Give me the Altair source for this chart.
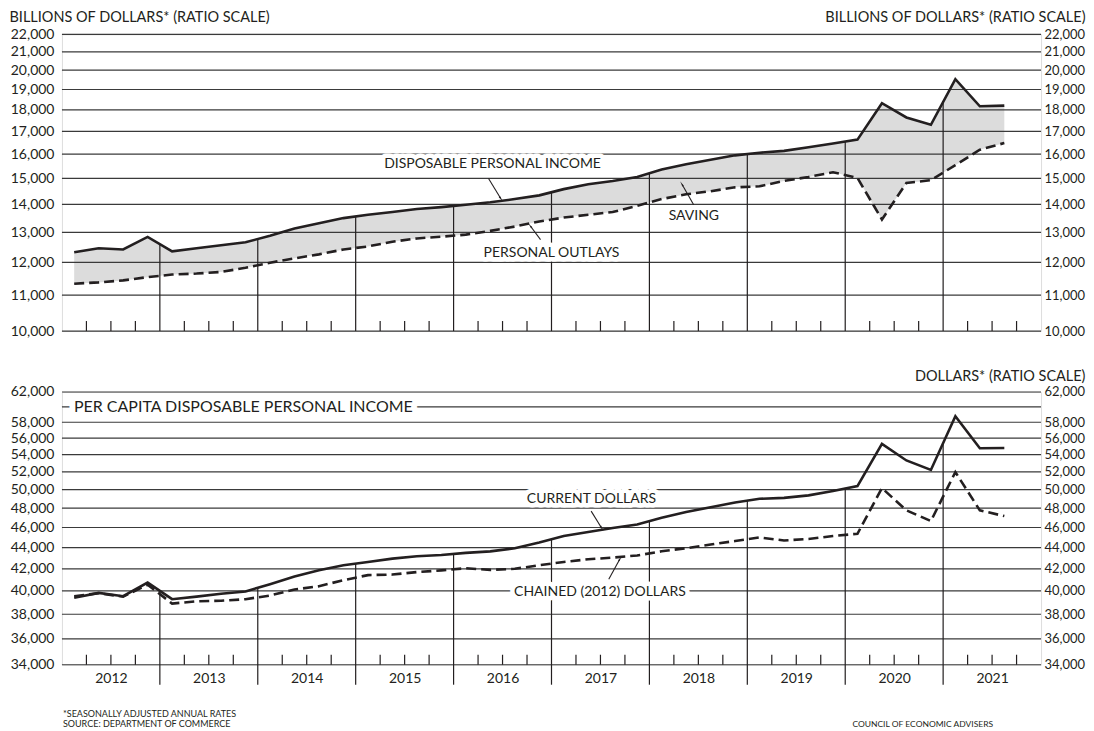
import altair as alt
import pandas as pd
import numpy as np

# ---------------- data ----------------
quarters = [f"{y}Q{q}" for y in range(2012, 2022) for q in range(1, 5)][:39]

income = [12330, 12460, 12420, 12840, 12360, 12460, 12560, 12660,
          12880, 13130, 13320, 13500, 13620, 13720, 13830, 13900,
          13990, 14080, 14200, 14340, 14580, 14770, 14900, 15060,
          15360, 15580, 15760, 15950, 16060, 16140, 16300, 16460,
          16630, 18320, 17640, 17300, 19530, 18170, 18200]

outlays = [11340, 11380, 11440, 11540, 11620, 11650, 11700, 11830,
           11990, 12130, 12260, 12420, 12520, 12680, 12790, 12850,
           12920, 13050, 13200, 13380, 13520, 13620, 13720, 13950,
           14200, 14380, 14500, 14650, 14690, 14900, 15060, 15250,
           15020, 13450, 14820, 14930, 15540, 16190, 16480]

current = [39400, 39830, 39540, 40740, 39280, 39500, 39750, 39950,
           40600, 41300, 41870, 42330, 42640, 42950, 43180, 43300,
           43500, 43640, 43950, 44500, 45150, 45550, 45950, 46300,
           47000, 47600, 48100, 48600, 49000, 49100, 49370, 49840,
           50390, 55300, 53320, 52220, 58770, 54780, 54800]

chained = [39540, 39800, 39500, 40560, 38900, 39100, 39150, 39280,
           39600, 40120, 40420, 40960, 41420, 41470, 41700, 41850,
           42050, 41900, 42000, 42330, 42640, 42890, 43050, 43250,
           43650, 43950, 44300, 44650, 45000, 44700, 44850, 45140,
           45370, 50170, 47770, 46660, 51970, 47770, 47170]

years = list(range(2012, 2022))
top_ticks = [10000, 11000, 12000, 13000, 14000, 15000, 16000, 17000,
             18000, 19000, 20000, 21000, 22000]
bottom_grid = [34000, 36000, 38000, 40000, 42000, 44000, 46000, 48000,
               50000, 52000, 54000, 56000, 58000, 60000, 62000]
bottom_labels = [v for v in bottom_grid if v != 60000]

# annotation labels (fractional-year x, value y)
top_labels = ["DISPOSABLE PERSONAL INCOME", "SAVING", "PERSONAL OUTLAYS"]
top_label_t = [2016.398, 2018.454, 2017.0]
top_label_v = [15570, 13590, 12310]
top_arrow_t0 = [2016.357, 2018.452, 2016.888]
top_arrow_v0 = [15000, 13990, 12750]
top_arrow_t1 = [2016.48, 2018.334, 2016.786]
top_arrow_v1 = [14230, 14760, 13210]
top_arrow_ang = [143, 330, 322]

bot_title = ["PER CAPITA DISPOSABLE PERSONAL INCOME"]
bot_title_t = [2012.1224]
bot_title_v = [60000]
bot_labels = ["CURRENT DOLLARS", "CHAINED (2012) DOLLARS"]
bot_label_t = [2017.408, 2017.495]
bot_label_v = [48940, 39920]
bot_arrow_t0 = [2017.405, 2017.585]
bot_arrow_v0 = [47690, 41050]
bot_arrow_t1 = [2017.51, 2017.697]
bot_arrow_v1 = [45980, 42890]
bot_arrow_ang = [148, 29]

# ---------------- tables ----------------
t = [int(q[:4]) + (int(q[-1]) - 0.5) / 4 for q in quarters]
df = pd.DataFrame({"t": t, "income": income, "outlays": outlays,
                   "current": current, "chained": chained})


def boundary_tops(vals):
    rows = []
    for y in range(2013, 2022):
        i = (y - 2012) * 4
        rows.append({"b": y, "top": float(np.sqrt(vals[i - 1] * vals[i]))})
    return pd.DataFrame(rows)


qticks = pd.DataFrame({"q": [y + f for y in years for f in (0.25, 0.5, 0.75)]})

FONT = "Lato"
INK = "#231f20"
GRID = "#3a3a3a"
W, H1, H2 = 980, 297, 273

xs = alt.Scale(domain=[2012, 2022], nice=False, zero=False)
ys1 = alt.Scale(type="log", domain=[10000, 22000], nice=False)
ys2 = alt.Scale(type="log", domain=[34000, 62000], nice=False)


def X(f, axis=None):
    return alt.X(f, type="quantitative", scale=xs, axis=axis, title=None)


def yaxis(values, orient, title=None, tx=0, ty=0, talign="left"):
    left = orient == "left"
    kw = dict(values=values, format=",", orient=orient, grid=False, ticks=False,
              domain=False, labelPadding=8 if left else 3,
              labelFont=FONT, labelFontSize=14 if left else 13, labelColor=INK,
              labelOverlap=False, labelFlush=False)
    if title:
        kw.update(title=title, titleAngle=0, titleAlign=talign, titleBaseline="middle",
                  titleX=tx, titleY=ty, titleFont=FONT, titleFontSize=14.5,
                  titleFontWeight="normal", titleColor=INK)
    else:
        kw.update(title=None)
    return alt.Axis(**kw)


def panel(H, ys, ycol_a, ycol_b, solid, dashed, grid_vals, label_vals, ltitle, rtitle,
          rty, labels, lt, lv, at0, av0, at1, av1, ang, big=None, xaxis=None, extra=None):
    layers = []
    if ycol_a is not None:
        layers.append(alt.Chart(df).mark_area(color="#dcdcdc").encode(
            x=X("t"), y=alt.Y(ycol_a, type="quantitative", scale=ys, axis=None),
            y2=alt.Y2(ycol_b)))
    # gridlines (carry the left axis)
    layers.append(alt.Chart(pd.DataFrame({"v": grid_vals})).mark_rule(
        color=GRID, strokeWidth=1.2).encode(
        y=alt.Y("v:Q", scale=ys,
                axis=yaxis(label_vals, "left", ltitle, -53, -17, "left"))))
    # invisible layer carrying right axis
    layers.append(alt.Chart(pd.DataFrame({"v": grid_vals})).mark_rule(
        opacity=0).encode(
        y=alt.Y("v:Q", scale=ys,
                axis=yaxis(label_vals, "right", rtitle, 44, rty, "right"))))
    # year separators from axis up to the solid line
    yl = boundary_tops(df[solid].tolist())
    layers.append(alt.Chart(yl).mark_rule(color=INK, strokeWidth=1.2).encode(
        x=X("b", xaxis), y=alt.Y("top:Q", scale=ys, axis=None),
        y2=alt.value(H + (20 if xaxis is not None else 0))))
    # quarter ticks
    layers.append(alt.Chart(qticks).mark_rule(color=INK, strokeWidth=1.2).encode(
        x=X("q"), y=alt.value(H - 10), y2=alt.value(H)))
    # text halos + text
    ann = pd.DataFrame({"t": lt, "v": lv, "label": labels})
    layers.append(alt.Chart(ann).mark_text(
        font=FONT, fontSize=14, color="white", stroke="white", strokeWidth=9,
        strokeJoin="round").encode(x=X("t"), y=alt.Y("v:Q", scale=ys, axis=None),
                                   text="label:N"))
    if big is not None:
        bdf = pd.DataFrame({"t": big[1], "v": big[2], "label": big[0]})
        layers.append(alt.Chart(bdf).mark_text(
            font=FONT, fontSize=16, align="left", color="white", stroke="white",
            strokeWidth=12, strokeJoin="round").encode(
            x=X("t"), y=alt.Y("v:Q", scale=ys, axis=None), text="label:N"))
        layers.append(alt.Chart(bdf).mark_text(
            font=FONT, fontSize=16, align="left", color=INK).encode(
            x=X("t"), y=alt.Y("v:Q", scale=ys, axis=None), text="label:N"))
    layers.append(alt.Chart(ann).mark_text(font=FONT, fontSize=14, color=INK).encode(
        x=X("t"), y=alt.Y("v:Q", scale=ys, axis=None), text="label:N"))
    # data lines
    layers.append(alt.Chart(df).mark_line(color=INK, strokeWidth=2.6).encode(
        x=X("t"), y=alt.Y(solid, type="quantitative", scale=ys, axis=None)))
    layers.append(alt.Chart(df).mark_line(color=INK, strokeWidth=2.6,
                                          strokeDash=[10, 5]).encode(
        x=X("t"), y=alt.Y(dashed, type="quantitative", scale=ys, axis=None)))
    # arrows
    arr = pd.DataFrame({"t0": at0, "v0": av0, "t1": at1, "v1": av1, "ang": ang})
    layers.append(alt.Chart(arr).mark_rule(color=INK, strokeWidth=1.1).encode(
        x=X("t0"), y=alt.Y("v0:Q", scale=ys, axis=None), x2="t1", y2="v1"))
    layers.append(alt.Chart(arr).mark_point(shape="wedge", filled=True, size=45,
                                            color=INK, opacity=1).encode(
        x=X("t1"), y=alt.Y("v1:Q", scale=ys, axis=None),
        angle=alt.Angle("ang:Q", scale=None)))
    if extra:
        layers.extend(extra)
    return alt.layer(*layers).properties(width=W, height=H).resolve_axis(
        x="independent", y="independent")


top = panel(H1, ys1, "income", "outlays", "income", "outlays", top_ticks, top_ticks,
            "BILLIONS OF DOLLARS* (RATIO SCALE)", "BILLIONS OF DOLLARS* (RATIO SCALE)", -17,
            top_labels, top_label_t, top_label_v, top_arrow_t0, top_arrow_v0,
            top_arrow_t1, top_arrow_v1, top_arrow_ang)

xaxis_bottom = alt.Axis(values=[y + 0.5 for y in years], labelExpr="floor(datum.value)",
                        ticks=False, domain=False, grid=False, labelPadding=7,
                        labelFont=FONT, labelFontSize=14, labelColor=INK,
                        labelFlush=False, labelOverlap=False, title=None, orient="bottom")

foot = [
    alt.Chart(pd.DataFrame({"label": ["*SEASONALLY ADJUSTED ANNUAL RATES\nSOURCE: DEPARTMENT OF COMMERCE"]}))
    .mark_text(font=FONT, fontSize=9, align="left", baseline="top", color=INK,
               lineBreak="\n", lineHeight=10)
    .encode(x=alt.value(1), y=alt.value(H2 + 45), text="label:N"),
    alt.Chart(pd.DataFrame({"label": ["COUNCIL OF ECONOMIC ADVISERS"]}))
    .mark_text(font=FONT, fontSize=8.5, align="right", baseline="top", color=INK)
    .encode(x=alt.value(932), y=alt.value(H2 + 55), text="label:N"),
]

bottom = panel(H2, ys2, None, None, "current", "chained", bottom_grid, bottom_labels,
               None, "DOLLARS* (RATIO SCALE)", -15,
               bot_labels, bot_label_t, bot_label_v, bot_arrow_t0, bot_arrow_v0,
               bot_arrow_t1, bot_arrow_v1, bot_arrow_ang,
               big=(bot_title, bot_title_t, bot_title_v), xaxis=xaxis_bottom, extra=foot)

chart = alt.vconcat(top, bottom, spacing=29).properties(
    padding={"left": 0, "top": 0, "right": 0, "bottom": 0}
).configure_view(stroke=INK, strokeWidth=1.3).configure(background="white")

chart.save("out.html", embed_options={"renderer": "svg", "actions": False})
